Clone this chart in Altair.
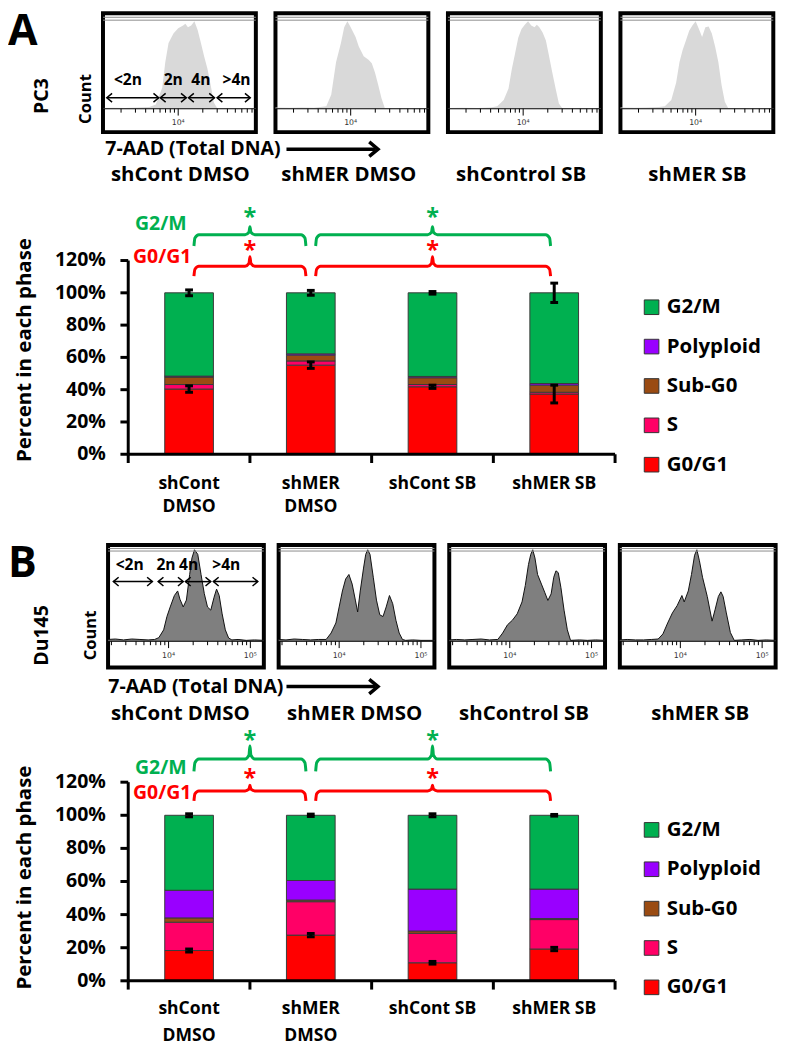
import altair as alt
import numpy as np
import pandas as pd

S = 0.98


def p(v):
    return round(v * S, 2)


FONT = "Open Sans"
SMALLFONT = "DejaVu Sans"

# ---------------- flow-cytometry histograms (x: log10 7-AAD, y: relative count) ----------------
A1_X = [3.08, 3.2, 3.35, 3.5, 3.646, 3.726, 3.805, 3.842, 3.882, 3.942, 4.0, 4.06, 4.088, 4.119, 4.159, 4.198,
        4.238, 4.278, 4.317, 4.357, 4.397, 4.436, 4.476, 4.6, 4.75, 4.95]
A1_Y = [0.01, 0.012, 0.01, 0.015, 0.02, 0.05, 0.24, 0.53, 0.75, 0.86, 0.92, 0.95, 0.97, 0.93, 0.95, 1.0,
        0.9, 0.75, 0.6, 0.46, 0.27, 0.07, 0.01, 0.008, 0.01, 0.008]
A2_X = [3.08, 3.25, 3.4, 3.55, 3.702, 3.762, 3.821, 3.881, 3.921, 3.960, 4.0, 4.06, 4.099, 4.159, 4.218, 4.258,
        4.298, 4.337, 4.377, 4.417, 4.55, 4.75, 4.95]
A2_Y = [0.015, 0.012, 0.015, 0.012, 0.03, 0.16, 0.53, 0.75, 0.93, 1.0, 0.93, 0.82, 0.71, 0.6, 0.56, 0.52,
        0.41, 0.27, 0.12, 0.01, 0.01, 0.008, 0.01]
A3_X = [3.08, 3.25, 3.45, 3.6, 3.683, 3.762, 3.821, 3.861, 3.901, 3.940, 3.980, 4.02, 4.06, 4.099, 4.139, 4.167,
        4.198, 4.238, 4.278, 4.317, 4.357, 4.397, 4.437, 4.476, 4.6, 4.8, 4.95]
A3_Y = [0.01, 0.012, 0.01, 0.015, 0.03, 0.1, 0.23, 0.45, 0.63, 0.81, 0.91, 0.96, 1.0, 0.95, 0.93, 0.96,
        0.93, 0.87, 0.78, 0.6, 0.41, 0.23, 0.06, 0.01, 0.008, 0.01, 0.008]
A4_X = [3.08, 3.25, 3.4, 3.55, 3.623, 3.702, 3.762, 3.802, 3.841, 3.881, 3.921, 3.960, 4.0, 4.04, 4.079, 4.119,
        4.159, 4.198, 4.238, 4.278, 4.317, 4.357, 4.397, 4.55, 4.75, 4.95]
A4_Y = [0.015, 0.012, 0.015, 0.02, 0.03, 0.1, 0.3, 0.53, 0.67, 0.78, 0.89, 0.95, 1.0, 0.91, 0.82, 0.93,
        0.94, 0.86, 0.71, 0.53, 0.27, 0.08, 0.01, 0.01, 0.008, 0.01]

B1_X = [3.26, 3.35, 3.45, 3.55, 3.65, 3.75, 3.83, 3.881, 3.940, 3.980, 4.02, 4.071, 4.111, 4.139, 4.179,
        4.218, 4.258, 4.286, 4.317, 4.357, 4.397, 4.437, 4.476, 4.516, 4.556, 4.587, 4.619, 4.655, 4.694,
        4.734, 4.774, 4.85, 4.95, 5.05, 5.165]
B1_Y = [0.02, 0.025, 0.015, 0.025, 0.02, 0.015, 0.02, 0.04, 0.125, 0.27, 0.375, 0.5, 0.55, 0.46, 0.375,
        0.45, 0.73, 0.91, 1.0, 0.95, 0.73, 0.52, 0.375, 0.34, 0.48, 0.57, 0.5, 0.3, 0.125,
        0.036, 0.015, 0.02, 0.01, 0.015, 0.01]
B2_X = [3.26, 3.35, 3.45, 3.55, 3.65, 3.75, 3.841, 3.901, 3.960, 4.0, 4.04, 4.079, 4.119, 4.159,
        4.198, 4.226, 4.258, 4.298, 4.325, 4.349, 4.377, 4.417, 4.456, 4.496, 4.536, 4.575, 4.615, 4.655,
        4.694, 4.734, 4.774, 4.813, 4.9, 5.0, 5.165]
B2_Y = [0.02, 0.015, 0.025, 0.02, 0.015, 0.02, 0.02, 0.09, 0.2, 0.375, 0.55, 0.68, 0.73, 0.625,
        0.45, 0.32, 0.55, 0.8, 0.95, 1.0, 0.95, 0.7, 0.45, 0.29, 0.27, 0.375, 0.5, 0.41,
        0.23, 0.09, 0.02, 0.01, 0.015, 0.01, 0.01]
B3_X = [3.26, 3.35, 3.45, 3.55, 3.65, 3.75, 3.854, 3.913, 3.972, 4.032, 4.091, 4.15, 4.19, 4.229,
        4.257, 4.281, 4.308, 4.34, 4.387, 4.427, 4.466, 4.506, 4.538, 4.565, 4.593, 4.625, 4.664, 4.704,
        4.743, 4.85, 4.95, 5.05, 5.165]
B3_Y = [0.015, 0.02, 0.015, 0.02, 0.025, 0.015, 0.02, 0.09, 0.18, 0.23, 0.3, 0.43, 0.61, 0.84,
        0.95, 1.0, 0.91, 0.73, 0.625, 0.536, 0.446, 0.518, 0.7, 0.77, 0.75, 0.59, 0.34, 0.125,
        0.01, 0.015, 0.01, 0.015, 0.01]
B4_X = [3.26, 3.35, 3.45, 3.55, 3.65, 3.729, 3.787, 3.845, 3.903, 3.961, 4.019, 4.047, 4.097,
        4.136, 4.174, 4.202, 4.233, 4.271, 4.329, 4.388, 4.426, 4.465, 4.496, 4.523, 4.562, 4.612, 4.659,
        4.75, 4.85, 4.95, 5.05, 5.165]
B4_Y = [0.015, 0.02, 0.015, 0.015, 0.02, 0.025, 0.08, 0.2, 0.31, 0.39, 0.5, 0.43, 0.55,
        0.73, 0.94, 1.0, 0.88, 0.7, 0.49, 0.22, 0.35, 0.49, 0.54, 0.49, 0.31, 0.095, 0.01,
        0.015, 0.02, 0.01, 0.015, 0.01]

TICKS_A = [2000, 3000, 4000, 5000, 6000, 7000, 8000, 9000, 10000,
           20000, 30000, 40000, 50000, 60000, 70000, 80000]
TICKS_B = TICKS_A + [90000, 100000]
MAJORS_A = [10000]
MAJOR_LABELS_A = ["10⁴"]
MAJORS_B = [10000, 100000]
MAJOR_LABELS_B = ["10⁴", "10⁵"]

PLOIDY_LABELS = ["<2n", "2n", "4n", ">4n"]
A_ARROW_START = [3.127, 3.782, 4.127, 4.476]
A_ARROW_END = [3.762, 4.099, 4.444, 4.881]
A_LABEL_X = [3.385, 3.94, 4.278, 4.714]
B_ARROW_START = [3.325, 3.873, 4.206, 4.548]
B_ARROW_END = [3.802, 4.179, 4.516, 5.091]
B_LABEL_X = [3.524, 3.968, 4.246, 4.706]

CONDITIONS = ["shCont DMSO", "shMER DMSO", "shControl SB", "shMER SB"]

# ---------------- stacked bar data (percent in each phase) ----------------
BAR_L1 = ["shCont", "shMER", "shCont SB", "shMER SB"]
BAR_L2 = ["DMSO", "DMSO", "", ""]
PHASES = ["G0/G1", "S", "Sub-G0", "Polyploid", "G2/M"]          # bottom -> top
LEGEND_ORDER = ["G2/M", "Polyploid", "Sub-G0", "S", "G0/G1"]
PHASE_COLORS = ["#00B050", "#9900FF", "#9A4B12", "#FF0066", "#FF0000"]  # in LEGEND_ORDER
Y_TICKS = [0, 20, 40, 60, 80, 100, 120]
Y_TICK_LABELS = ["0%", "20%", "40%", "60%", "80%", "100%", "120%"]

A_G0G1 = [40.4, 55.2, 41.8, 37.3]
A_S = [2.8, 2.6, 1.4, 1.1]
A_SUBG0 = [4.6, 3.6, 4.2, 4.4]
A_POLY = [0.6, 0.8, 0.8, 1.0]
A_G2M = [51.6, 37.8, 51.8, 56.2]
A_ERR_G0G1 = [2.0, 2.0, 1.0, 5.5]
A_ERR_TOP = [1.8, 1.5, 0.8, 6.0]

B_G0G1 = [18.3, 27.6, 10.9, 19.2]
B_S = [17.1, 20.2, 17.8, 17.8]
B_SUBG0 = [2.6, 1.0, 1.4, 0.6]
B_POLY = [16.7, 11.8, 25.3, 17.8]
B_G2M = [45.3, 39.4, 44.6, 44.6]
B_ERR_G0G1 = [0.9, 1.0, 0.8, 1.0]
B_ERR_TOP = [0.9, 0.7, 0.9, 0.5]

BRACKET_START = [0.54, 1.54]
BRACKET_END = [1.46, 3.47]
BRACKET_MID = [1.0, 2.5]

CHEV_R = "M-1.2,-1L0,0L-1.2,1"
CHEV_L = "M1.2,-1L0,0L1.2,1"


def T(**kw):
    base = dict(font=FONT, fontWeight="bold", color="black")
    base.update(kw)
    return base


def hist_panel(xs, ys, dom_x, dom_y, peak_px, w, h, fill, outline, ticks, majors, major_labels,
               top_lines, arrows=None):
    xsc = alt.Scale(domain=dom_x, nice=False, zero=False)
    ysc = alt.Scale(domain=dom_y, nice=False, zero=False)

    def ex(f):
        return alt.X(f, type="quantitative", scale=xsc, axis=None)

    def ey(f):
        return alt.Y(f, type="quantitative", scale=ysc, axis=None)

    df = pd.DataFrame({"lx": xs, "c": ys, "z": 0.0})
    layers = [alt.Chart(df).mark_area(color=fill, opacity=1).encode(x=ex("lx"), y=ey("c"), y2="z")]
    if outline:
        layers.append(alt.Chart(df).mark_line(color=outline, strokeWidth=1).encode(x=ex("lx"), y=ey("c")))
    layers.append(alt.Chart(pd.DataFrame({"v": top_lines})).mark_rule(color="#8c8c8c", strokeWidth=1)
                  .encode(y=ey("v")))
    layers.append(alt.Chart(pd.DataFrame({"v": [0.0]})).mark_rule(color="black", strokeWidth=1)
                  .encode(y=ey("v")))
    tdf = pd.DataFrame({"lx": np.log10(ticks), "y0": 0.0,
                        "y1": [-(7.0 if t in majors else 4.0) / peak_px for t in ticks]})
    layers.append(alt.Chart(tdf).mark_rule(color="black", strokeWidth=1)
                  .encode(x=ex("lx"), y=ey("y0"), y2="y1"))
    ldf = pd.DataFrame({"lx": np.log10(majors), "yy": -15.0 / peak_px, "t": major_labels})
    layers.append(alt.Chart(ldf).mark_text(font=SMALLFONT, fontSize=p(8), color="#333333", baseline="middle")
                  .encode(x=ex("lx"), y=ey("yy"), text="t:N"))
    if arrows is not None:
        starts, ends, labx, ay, ly = arrows
        adf = pd.DataFrame({"x1": starts, "x2": ends, "y": ay, "lx": labx, "ly": ly, "t": PLOIDY_LABELS})
        layers.append(alt.Chart(adf).mark_rule(color="black", strokeWidth=1.5)
                      .encode(x=ex("x1"), x2="x2", y=ey("y")))
        layers.append(alt.Chart(adf).mark_point(shape=CHEV_L, size=p(9) ** 2, filled=False, strokeWidth=1.5,
                                                color="black", opacity=1)
                      .encode(x=ex("x1"), y=ey("y")))
        layers.append(alt.Chart(adf).mark_point(shape=CHEV_R, size=p(9) ** 2, filled=False, strokeWidth=1.5,
                                                color="black", opacity=1)
                      .encode(x=ex("x2"), y=ey("y")))
        layers.append(alt.Chart(adf).mark_text(**T(fontSize=p(16), baseline="middle"))
                      .encode(x=ex("lx"), y=ey("ly"), text="t:N"))
    return alt.layer(*layers).properties(
        width=p(w), height=p(h), view=alt.ViewBackground(stroke="black", strokeWidth=4))


def one():
    return alt.Chart(pd.DataFrame({"a": [0]}))


def label_col(w, h, letter, letter_y, cell, cell_x, cell_y, count_x, count_y):
    l1 = one().mark_text(**T(text=letter, fontSize=p(44), align="left", baseline="top")).encode(
        x=alt.value(0), y=alt.value(p(letter_y)))
    l2 = one().mark_text(**T(text=cell, fontSize=p(20), angle=270, align="center", baseline="middle")).encode(
        x=alt.value(p(cell_x)), y=alt.value(p(cell_y)))
    l3 = one().mark_text(**T(text="Count", fontSize=p(17), angle=270, align="center", baseline="middle")).encode(
        x=alt.value(p(count_x)), y=alt.value(p(count_y)))
    return alt.layer(l1, l2, l3).properties(width=p(w), height=p(h))


def mid_row(h_px, off_px, aad_x, aad_y, lab_y, lab_x):
    ya = p(aad_y) - off_px
    yl = p(lab_y) - off_px
    layers = [
        one().mark_text(**T(text="7-AAD (Total DNA)", fontSize=p(20), align="left", baseline="middle")).encode(
            x=alt.value(p(aad_x)), y=alt.value(ya)),
        one().mark_rule(color="black", strokeWidth=3.5).encode(
            x=alt.value(p(286)), x2=alt.value(p(377)), y=alt.value(ya)),
        one().mark_point(shape=CHEV_R, size=p(15) ** 2, filled=False, strokeWidth=3.5, color="black",
                         opacity=1).encode(x=alt.value(p(380)), y=alt.value(ya)),
    ]
    for name, cx in zip(CONDITIONS, lab_x):
        layers.append(one().mark_text(**T(text=name, fontSize=p(21), align="center", baseline="middle")).encode(
            x=alt.value(p(cx)), y=alt.value(yl)))
    return alt.layer(*layers).properties(width=p(788), height=h_px)


def spacer(w_px, h_px):
    return one().mark_text(text="", fontSize=4).encode(
        x=alt.value(w_px / 2), y=alt.value(h_px / 2)).properties(width=w_px, height=h_px)


def bracket_df(lvl, drop, rise):
    rows = []
    for b, (xs, xe, xc) in enumerate(zip(BRACKET_START, BRACKET_END, BRACKET_MID)):
        pts = [(xs, lvl - drop), (xs + 0.008, lvl - drop * 0.3), (xs + 0.04, lvl),
               (xc - 0.04, lvl), (xc - 0.008, lvl + rise * 0.3), (xc, lvl + rise),
               (xc + 0.008, lvl + rise * 0.3), (xc + 0.04, lvl),
               (xe - 0.04, lvl), (xe - 0.008, lvl - drop * 0.3), (xe, lvl - drop)]
        for k, (x, y) in enumerate(pts):
            rows.append({"bx": x, "by": y, "bid": b, "k": k})
    return pd.DataFrame(rows)


def bar_panel(vals, err_g0, err_top, ymin, ymax, h, ppp, green, red, g_lab_y, r_lab_y,
              legend_y, title_y, cat_y1, cat_y2):
    xsc = alt.Scale(domain=[0, 4], nice=False, zero=False)
    ysc = alt.Scale(domain=[ymin, ymax], nice=False, zero=False)
    unit_px = 125.0  # reference pixels per category on x

    def ex(f):
        return alt.X(f, type="quantitative", scale=xsc, axis=None)

    def ey(f):
        return alt.Y(f, type="quantitative", scale=ysc, axis=None)

    rows = []
    for i in range(4):
        lo = 0.0
        for ph in PHASES:
            v = vals[ph][i]
            rows.append({"phase": ph, "x0": i + 0.3, "x1": i + 0.7, "lo": lo, "hi": lo + v})
            lo += v
    bdf = pd.DataFrame(rows)

    legend = alt.Legend(orient="none", legendX=p(527), legendY=p(legend_y), title=None, symbolType="square",
                        symbolSize=p(15) ** 2, symbolStrokeColor="#333333", symbolStrokeWidth=1, symbolOpacity=1,
                        labelFont=FONT, labelFontSize=p(21), labelFontWeight="bold", labelColor="black",
                        rowPadding=p(19), labelOffset=p(5), padding=0)
    bars = alt.Chart(bdf).mark_bar(stroke="#3a3a3a", strokeWidth=1, opacity=1).encode(
        x=ex("x0"), x2="x1", y=ey("lo"), y2="hi",
        color=alt.Color("phase:N", scale=alt.Scale(domain=LEGEND_ORDER, range=PHASE_COLORS), legend=legend))

    # axes drawn as marks: y line 0-120 %, x line along 0 %, ticks and tick labels
    yline = alt.Chart(pd.DataFrame({"x": [0.0], "y0": [0.0], "y1": [120.0]})).mark_rule(
        color="black", strokeWidth=3).encode(x=ex("x"), y=ey("y0"), y2="y1")
    xline = alt.Chart(pd.DataFrame({"x0": [0.0], "x1": [4.0], "y": [0.0]})).mark_rule(
        color="black", strokeWidth=3).encode(x=ex("x0"), x2="x1", y=ey("y"))
    xt = pd.DataFrame({"x": [0, 1, 2, 3, 4], "y0": 0.0, "y1": -9.0 / ppp})
    xticks = alt.Chart(xt).mark_rule(color="black", strokeWidth=3).encode(x=ex("x"), y=ey("y0"), y2="y1")
    yt = pd.DataFrame({"v": Y_TICKS, "lab": Y_TICK_LABELS, "x0": -8.0 / unit_px, "x1": 0.0,
                       "xl": -23.0 / unit_px})
    yticks = alt.Chart(yt).mark_rule(color="black", strokeWidth=3).encode(x=ex("x0"), x2="x1", y=ey("v"))
    ylabels = alt.Chart(yt).mark_text(**T(fontSize=p(20), align="right", baseline="middle")).encode(
        x=ex("xl"), y=ey("v"), text="lab:N")

    erows = []
    for i in range(4):
        g = vals["G0/G1"][i]
        erows.append({"x": i + 0.5, "lo": g - err_g0[i], "hi": g + err_g0[i]})
        erows.append({"x": i + 0.5, "lo": 100 - err_top[i], "hi": 100 + err_top[i]})
    edf = pd.DataFrame(erows)
    err_line = alt.Chart(edf).mark_rule(color="black", strokeWidth=3).encode(x=ex("x"), y=ey("lo"), y2="hi")
    cap_lo = alt.Chart(edf).mark_tick(orient="horizontal", size=p(8), thickness=3, color="black", opacity=1).encode(
        x=ex("x"), y=ey("lo"))
    cap_hi = alt.Chart(edf).mark_tick(orient="horizontal", size=p(8), thickness=3, color="black", opacity=1).encode(
        x=ex("x"), y=ey("hi"))

    layers = [bars, yline, xline, xticks, yticks, ylabels, err_line, cap_lo, cap_hi]
    for (lvl, drop, rise, star), col, lab, laby in [(green, "#00B050", "G2/M", g_lab_y),
                                                    (red, "#FF0000", "G0/G1", r_lab_y)]:
        layers.append(alt.Chart(bracket_df(lvl, drop, rise)).mark_line(
            color=col, strokeWidth=3, interpolate="monotone").encode(
            x=ex("bx"), y=ey("by"), detail="bid:N", order="k:Q"))
        sdf = pd.DataFrame({"x": BRACKET_MID, "y": [star, star], "t": ["*", "*"]})
        layers.append(alt.Chart(sdf).mark_text(**T(fontSize=p(24), color=col, baseline="alphabetic", dy=p(13)))
                      .encode(x=ex("x"), y=ey("y"), text="t:N"))
        ldf = pd.DataFrame({"x": [0.52 if lab == "G0/G1" else 0.48], "y": [laby], "t": [lab]})
        layers.append(alt.Chart(ldf).mark_text(**T(fontSize=p(20), color=col, align="right", baseline="middle"))
                      .encode(x=ex("x"), y=ey("y"), text="t:N"))

    cdf = pd.DataFrame({"x": [i + 0.5 for i in range(4)], "l1": BAR_L1, "l2": BAR_L2})
    layers.append(alt.Chart(cdf).mark_text(**T(fontSize=p(18), baseline="middle")).encode(
        x=ex("x"), y=alt.value(p(cat_y1)), text="l1:N"))
    layers.append(alt.Chart(cdf).mark_text(**T(fontSize=p(18), baseline="middle")).encode(
        x=ex("x"), y=alt.value(p(cat_y2)), text="l2:N"))
    layers.append(one().mark_text(**T(text="Percent in each phase", fontSize=p(21), angle=270, align="center",
                                      baseline="middle")).encode(x=alt.value(p(-106)), y=alt.value(p(title_y))))
    return alt.layer(*layers).properties(width=p(500), height=p(h))


def hrow(charts, spacing):
    return alt.hconcat(*charts, spacing=spacing, bounds="flush").resolve_scale(
        x="independent", y="independent", color="independent").resolve_legend(color="independent")


# ---------------- Panel A ----------------
A_DOM_X = [3.08, 4.95]
A_DOM_Y = [-24 / 90, 98 / 90]
A_TOP = [1.011, 1.044]
hA = [
    hist_panel(A1_X, A1_Y, A_DOM_X, A_DOM_Y, 90, 157, 122, "#D9D9D9", None, TICKS_A, MAJORS_A, MAJOR_LABELS_A,
               A_TOP, arrows=(A_ARROW_START, A_ARROW_END, A_LABEL_X, 0.126, 0.33)),
    hist_panel(A2_X, A2_Y, A_DOM_X, A_DOM_Y, 90, 157, 122, "#D9D9D9", None, TICKS_A, MAJORS_A, MAJOR_LABELS_A,
               A_TOP),
    hist_panel(A3_X, A3_Y, A_DOM_X, A_DOM_Y, 90, 157, 122, "#D9D9D9", None, TICKS_A, MAJORS_A, MAJOR_LABELS_A,
               A_TOP),
    hist_panel(A4_X, A4_Y, A_DOM_X, A_DOM_Y, 90, 157, 122, "#D9D9D9", None, TICKS_A, MAJORS_A, MAJOR_LABELS_A,
               A_TOP),
]
row1 = hrow([label_col(77, 122, "A", -2, "PC3", 35, 85, 80, 88)] + hA, p(20))
row2 = mid_row(p(68) - 4, 4, 100, 16, 43, [177, 350, 527, 708])
PPP_A = 1.658
barA = bar_panel({"G0/G1": A_G0G1, "S": A_S, "Sub-G0": A_SUBG0, "Polyploid": A_POLY, "G2/M": A_G2M},
                 A_ERR_G0G1, A_ERR_TOP, -(525 - 451) / PPP_A, (451 - 190) / PPP_A, 335, PPP_A,
                 (136.0, 7.0, 5.0, 150.0), (116.4, 6.0, 6.0, 129.7), 142.3, 122.4,
                 99.5, 154, 292, 315)
row3 = hrow([spacer(p(123), p(335)), barA], 0)
row4 = spacer(10, p(18) - 2)

# ---------------- Panel B ----------------
B_DOM_X = [3.26, 5.165]
B_DOM_Y = [-27 / 94, 99 / 94]
B_TOP = [0.986, 1.014]
hB = [
    hist_panel(B1_X, B1_Y, B_DOM_X, B_DOM_Y, 94, 160, 126, "#7F7F7F", "#111111", TICKS_B, MAJORS_B,
               MAJOR_LABELS_B, B_TOP, arrows=(B_ARROW_START, B_ARROW_END, B_LABEL_X, 0.652, 0.837)),
    hist_panel(B2_X, B2_Y, B_DOM_X, B_DOM_Y, 94, 160, 126, "#7F7F7F", "#111111", TICKS_B, MAJORS_B,
               MAJOR_LABELS_B, B_TOP),
    hist_panel(B3_X, B3_Y, B_DOM_X, B_DOM_Y, 94, 160, 126, "#7F7F7F", "#111111", TICKS_B, MAJORS_B,
               MAJOR_LABELS_B, B_TOP),
    hist_panel(B4_X, B4_Y, B_DOM_X, B_DOM_Y, 94, 160, 126, "#7F7F7F", "#111111", TICKS_B, MAJORS_B,
               MAJOR_LABELS_B, B_TOP),
]
row5 = hrow([label_col(87, 126, "B", -2, "Du145", 35, 93, 85, 93)] + hB, p(15))
row6 = mid_row(p(56) - 2, 2, 103, 19, 47, [177, 356, 530, 711])
PPP_B = 1.70
barB = bar_panel({"G0/G1": B_G0G1, "S": B_S, "Sub-G0": B_SUBG0, "Polyploid": B_POLY, "G2/M": B_G2M},
                 B_ERR_G0G1, B_ERR_TOP, -(1050 - 988) / PPP_B, (988 - 725) / PPP_B, 325, PPP_B,
                 (134.0, 7.5, 7.8, 148.0), (114.7, 6.0, 3.5, 125.3), 128.8, 113.5,
                 97.5, 157, 292, 320)
row7 = hrow([spacer(p(123), p(325)), barB], 0)

chart = alt.vconcat(row1, row2, row3, row4, row5, row6, row7, spacing=0).resolve_scale(
    x="independent", y="independent", color="independent").resolve_legend(color="independent").properties(
    padding=0).configure_view(strokeWidth=0)

chart.save("out.html", embed_options={"renderer": "svg", "actions": False})
